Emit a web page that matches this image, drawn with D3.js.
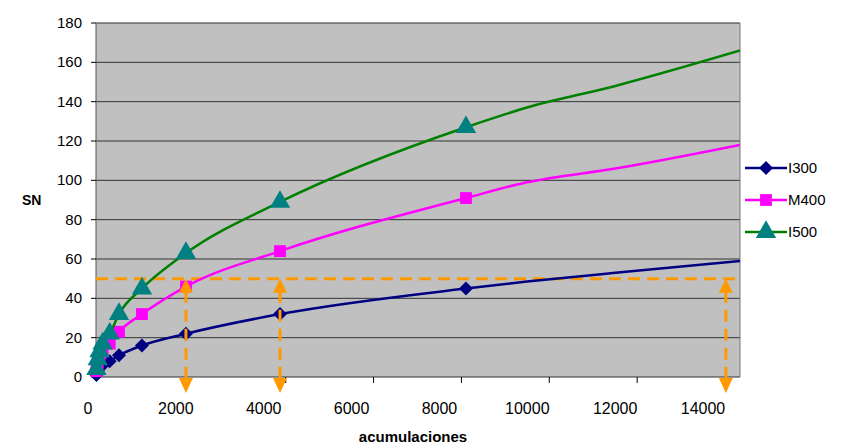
<!DOCTYPE html>
<html><head><meta charset="utf-8">
<script src="https://cdn.jsdelivr.net/npm/d3@7"></script>
<style>body{margin:0;background:#fff;font-family:"Liberation Sans",Arial,sans-serif}</style>
</head><body><svg id="c" width="844" height="445"></svg>
<script>
// marker positions (acumulaciones) and SN values
const acum = [260, 290, 330, 400, 560, 770, 1290, 2285, 4413, 8620];
const i300 = [1, 3, 5, 6, 8, 11, 16, 22, 32, 45];
const m400 = [3, 7, 10, 13, 17, 23, 32, 46, 64, 91];
const i500 = [4, 9, 13, 17, 22, 32, 45, 63, 89, 127];
// curve continuation past the last marker
const tailX = [10000, 12000, 14820];
const i300Tail = [48.5, 53, 59];
const m400Tail = [99, 106, 118];
const i500Tail = [137, 148, 166];
const xTicks = [0, 2000, 4000, 6000, 8000, 10000, 12000, 14000];
const yTicks = d3.range(0, 181, 20);
const targetSN = 50;
const arrowsAt = [2285, 4413, 14500];

const svg = d3.select("#c");
const x = d3.scaleLinear().domain([250, 14820]).range([96, 740]);
const xl = d3.scaleLinear().domain([0, 14000]).range([88, 703]);
const y = d3.scaleLinear().domain([0, 180]).range([377, 23]);

svg.append("rect").attr("x", 96).attr("y", 23).attr("width", 644).attr("height", 354)
  .attr("fill", "#c0c0c0");
svg.append("g").selectAll("line").data(yTicks).join("line")
  .attr("x1", 96).attr("x2", 740).attr("y1", d => y(d)).attr("y2", d => y(d))
  .attr("stroke", "#333").attr("stroke-width", 1);
svg.append("line").attr("x1", 96).attr("x2", 96).attr("y1", 23).attr("y2", 377).attr("stroke", "#555");
svg.append("line").attr("x1", 740).attr("x2", 740).attr("y1", 23).attr("y2", 377).attr("stroke", "#777");
svg.append("g").selectAll("line").data(yTicks).join("line")
  .attr("x1", 91).attr("x2", 96).attr("y1", d => y(d)).attr("y2", d => y(d)).attr("stroke", "#000");
svg.append("g").selectAll("text").data(yTicks).join("text")
  .attr("x", 82).attr("y", d => y(d) + 5).attr("text-anchor", "end")
  .attr("font-size", 15).text(d => d);
svg.append("g").selectAll("text").data(xTicks).join("text")
  .attr("x", d => xl(d)).attr("y", 414).attr("text-anchor", "middle")
  .attr("font-size", 16).text(d => d);
svg.append("g").selectAll("line").data(xTicks.slice(2)).join("line")
  .attr("x1", d => xl(d) + 22).attr("x2", d => xl(d) + 22).attr("y1", 377).attr("y2", 383)
  .attr("stroke", "#000");
svg.append("text").attr("x", 22).attr("y", 205).attr("font-size", 14).attr("font-weight", "bold").text("SN");
svg.append("text").attr("x", 413).attr("y", 442).attr("text-anchor", "middle")
  .attr("font-size", 15).attr("font-weight", "bold").text("acumulaciones");

svg.append("clipPath").attr("id", "clip").append("rect")
  .attr("x", 80).attr("y", 15).attr("width", 660).attr("height", 375);
const plot = svg.append("g").attr("clip-path", "url(#clip)");

const diamond = "M0,-7L7,0L0,7L-7,0Z";
const series = [
  {name: "I300", vals: i300, tail: i300Tail, color: "#000080", path: diamond},
  {name: "M400", vals: m400, tail: m400Tail, color: "#ff00ff", path: d3.symbol(d3.symbolSquare, 140)()},
  {name: "I500", vals: i500, tail: i500Tail, color: "#008000", mcolor: "#008080", path: d3.symbol(d3.symbolTriangle, 180)()}
];
const line = d3.line().x(d => x(d[0])).y(d => y(d[1])).curve(d3.curveMonotoneX);

const orange = "#ff9900";
plot.append("line").attr("x1", 96).attr("x2", 740).attr("y1", y(targetSN)).attr("y2", y(targetSN))
  .attr("stroke", orange).attr("stroke-width", 3).attr("stroke-dasharray", "12,7");

series.forEach(s => {
  const pts = acum.map((a, i) => [a, s.vals[i]]).concat(tailX.map((a, i) => [a, s.tail[i]]));
  plot.append("path").attr("d", line(pts)).attr("fill", "none")
    .attr("stroke", s.color).attr("stroke-width", 2.5);
  plot.append("g").selectAll("path").data(acum.map((a, i) => [a, s.vals[i]])).join("path")
    .attr("transform", d => `translate(${x(d[0])},${y(d[1])})`)
    .attr("d", s.path).attr("fill", s.mcolor || s.color);
});

arrowsAt.forEach(a => {
  const px = x(a);
  svg.append("line").attr("x1", px).attr("x2", px).attr("y1", y(targetSN) + 12).attr("y2", 380)
    .attr("stroke", orange).attr("stroke-width", 3).attr("stroke-dasharray", "12,7");
  svg.append("path").attr("d", `M${px},${y(targetSN)}l-7,14h14z`).attr("fill", orange);
  svg.append("path").attr("d", `M${px},393l-7,-15h14z`).attr("fill", orange);
});

// legend
const lg = svg.append("g");
series.forEach((s, i) => {
  const ly = 168 + i * 32;
  lg.append("line").attr("x1", 745).attr("x2", 787).attr("y1", ly).attr("y2", ly)
    .attr("stroke", s.color).attr("stroke-width", 2.5);
  lg.append("path").attr("transform", `translate(766,${ly})`)
    .attr("d", s.path).attr("fill", s.mcolor || s.color);
  lg.append("text").attr("x", 788).attr("y", ly + 5).attr("font-size", 15).text(s.name);
});
</script></body></html>
